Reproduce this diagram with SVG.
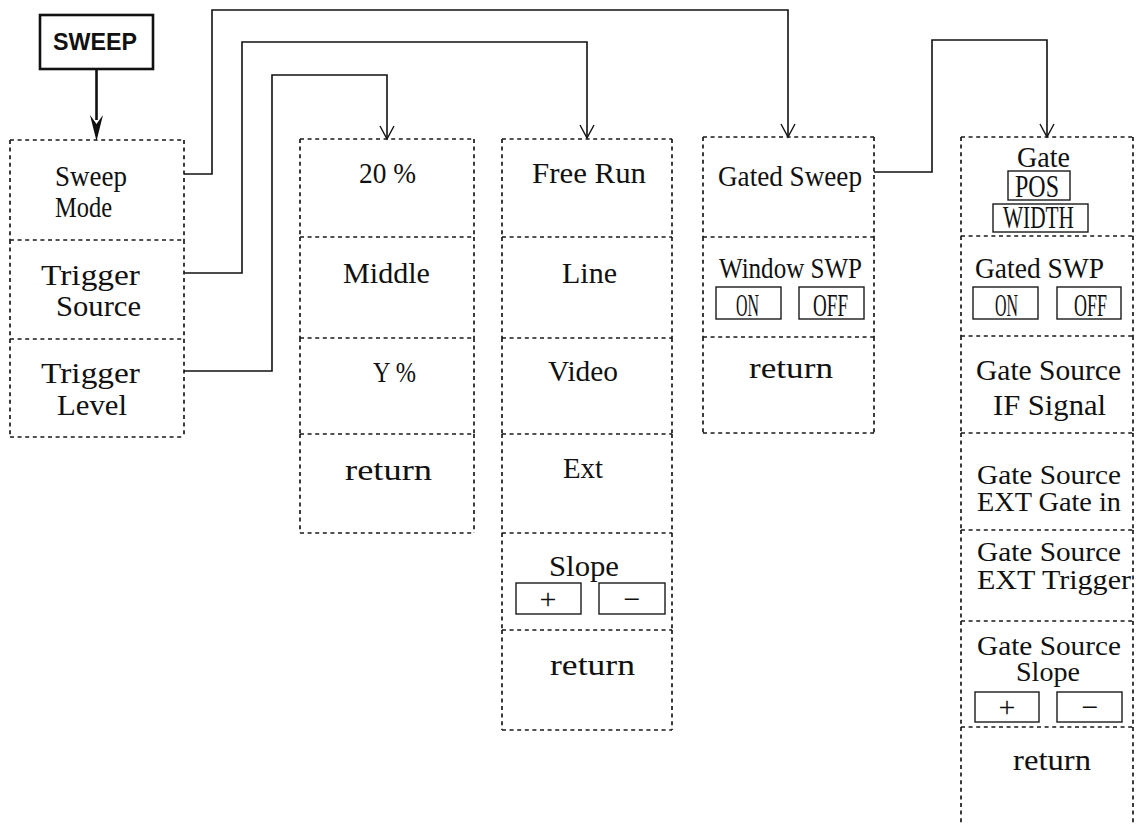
<svg xmlns="http://www.w3.org/2000/svg" width="1136" height="825" viewBox="0 0 1136 825">
<style>
.cell{fill:none;stroke:#1a1a1a;stroke-width:1.7;stroke-dasharray:4 3.6}
.btn{fill:none;stroke:#1a1a1a;stroke-width:1.4}
.t{font-family:"Liberation Serif","Times New Roman",serif;font-size:29px;fill:#111}
.s{font-family:"Liberation Serif","Times New Roman",serif;font-size:27px;fill:#111}
.b{font-family:"Liberation Serif","Times New Roman",serif;font-size:31px;fill:#111}
.pm{font-family:"Liberation Serif","Times New Roman",serif;font-size:30px;fill:#111;text-anchor:middle}
.conn{fill:none;stroke:#111;stroke-width:1.6}
.head{fill:none;stroke:#111;stroke-width:1.4}
</style>
<rect width="1136" height="825" fill="#fff"/>

<g id="sweep-key">
<rect x="40" y="15" width="113" height="54" fill="#fff" stroke="#111" stroke-width="2.6"/>
<text x="95" y="50" text-anchor="middle" style="font-family:'Liberation Sans',Arial,sans-serif;font-size:24px;font-weight:bold;fill:#111" textLength="84" lengthAdjust="spacingAndGlyphs">SWEEP</text>
</g>

<g id="connectors">
<path d="M96.5 69 V120" stroke="#111" stroke-width="2.6" fill="none"/>
<path d="M96.5 141 L90 115 L96.5 124 L103 115 Z" fill="#111"/>
<path class="conn" d="M184 174 H212 V10 H788 V137"/>
<path class="head" d="M781 124 L788 137 L795 124"/>
<path class="conn" d="M184 273 H242 V42 H587 V138"/>
<path class="head" d="M580 125 L587 138 L594 125"/>
<path class="conn" d="M184 371 H272 V75 H387 V139"/>
<path class="head" d="M380 126 L387 139 L394 126"/>
<path class="conn" d="M874 172 H932 V40 H1047 V137"/>
<path class="head" d="M1040 124 L1047 137 L1054 124"/>
</g>

<g id="sweep-mode">
<path class="cell" d="M10 140 H184 M10 140 V240 M184 140 V240"/>
<text class="t" x="55" y="186" textLength="72" lengthAdjust="spacingAndGlyphs">Sweep</text>
<text class="t" x="55" y="217" textLength="57" lengthAdjust="spacingAndGlyphs">Mode</text>
</g>
<g id="trigger-source">
<path class="cell" d="M10 240 H184 M10 240 V339 M184 240 V339"/>
<text class="t" x="41" y="285" textLength="99" lengthAdjust="spacingAndGlyphs">Trigger</text>
<text class="t" x="56" y="316" textLength="85" lengthAdjust="spacingAndGlyphs">Source</text>
</g>
<g id="trigger-level">
<path class="cell" d="M10 339 H184 M10 339 V437 M184 339 V437 M10 437 H184"/>
<text class="t" x="41" y="383" textLength="99" lengthAdjust="spacingAndGlyphs">Trigger</text>
<text class="t" x="57" y="415" textLength="70" lengthAdjust="spacingAndGlyphs">Level</text>
</g>

<g id="level-20">
<path class="cell" d="M300 139 H474 M300 139 V237 M474 139 V237"/>
<text class="t" x="359" y="183" textLength="57" lengthAdjust="spacingAndGlyphs">20 %</text>
</g>
<g id="level-middle">
<path class="cell" d="M300 237 H474 M300 237 V338 M474 237 V338"/>
<text class="t" x="343" y="283" textLength="87" lengthAdjust="spacingAndGlyphs">Middle</text>
</g>
<g id="level-y">
<path class="cell" d="M300 338 H474 M300 338 V434 M474 338 V434"/>
<text class="t" x="373" y="382" textLength="43" lengthAdjust="spacingAndGlyphs">Y %</text>
</g>
<g id="level-return">
<path class="cell" d="M300 434 H474 M300 434 V533 M474 434 V533 M300 533 H474"/>
<text class="t" x="345" y="480" textLength="87" lengthAdjust="spacingAndGlyphs">return</text>
</g>

<g id="src-free-run">
<path class="cell" d="M502 139 H672 M502 139 V237 M672 139 V237"/>
<text class="t" x="532" y="183" textLength="114" lengthAdjust="spacingAndGlyphs">Free Run</text>
</g>
<g id="src-line">
<path class="cell" d="M502 237 H672 M502 237 V338 M672 237 V338"/>
<text class="t" x="562" y="283" textLength="55" lengthAdjust="spacingAndGlyphs">Line</text>
</g>
<g id="src-video">
<path class="cell" d="M502 338 H672 M502 338 V434 M672 338 V434"/>
<text class="t" x="548" y="381" textLength="70" lengthAdjust="spacingAndGlyphs">Video</text>
</g>
<g id="src-ext">
<path class="cell" d="M502 434 H672 M502 434 V533 M672 434 V533"/>
<text class="t" x="563" y="478" textLength="40" lengthAdjust="spacingAndGlyphs">Ext</text>
</g>
<g id="src-slope">
<path class="cell" d="M502 533 H672 M502 533 V630 M672 533 V630"/>
<text class="t" x="549" y="576" textLength="70" lengthAdjust="spacingAndGlyphs">Slope</text>
<rect class="btn" x="516" y="583" width="65" height="31"/>
<rect class="btn" x="599" y="583" width="66" height="31"/>
<text class="pm" x="548" y="609">+</text>
<text class="pm" x="632" y="609">−</text>
</g>
<g id="src-return">
<path class="cell" d="M502 630 H672 M502 630 V730 M672 630 V730 M502 730 H672"/>
<text class="t" x="550" y="675" textLength="85" lengthAdjust="spacingAndGlyphs">return</text>
</g>

<g id="gated-sweep">
<path class="cell" d="M703 137 H874 M703 137 V237 M874 137 V237"/>
<text class="t" x="718" y="186" textLength="144" lengthAdjust="spacingAndGlyphs">Gated Sweep</text>
</g>
<g id="window-swp">
<path class="cell" d="M703 237 H874 M703 237 V337 M874 237 V337"/>
<text class="t" x="719" y="278" textLength="143" lengthAdjust="spacingAndGlyphs">Window SWP</text>
<rect class="btn" x="716" y="287" width="65" height="32"/>
<rect class="btn" x="799" y="287" width="65" height="32"/>
<text class="b" x="736" y="316" textLength="23" lengthAdjust="spacingAndGlyphs">ON</text>
<text class="b" x="813" y="316" textLength="35" lengthAdjust="spacingAndGlyphs">OFF</text>
</g>
<g id="gated-return">
<path class="cell" d="M703 337 H874 M703 337 V433 M874 337 V433 M703 433 H874"/>
<text class="t" x="749" y="378" textLength="84" lengthAdjust="spacingAndGlyphs">return</text>
</g>

<g id="gate-pos-width">
<path class="cell" d="M961 137 H1133 M961 137 V236 M1133 137 V236"/>
<text class="t" x="1017" y="167" textLength="53" lengthAdjust="spacingAndGlyphs">Gate</text>
<rect class="btn" x="1008" y="171" width="62" height="29"/>
<rect class="btn" x="993" y="204" width="95" height="28"/>
<text class="b" x="1015" y="197" textLength="44" lengthAdjust="spacingAndGlyphs">POS</text>
<text class="b" x="1003" y="228" textLength="71" lengthAdjust="spacingAndGlyphs">WIDTH</text>
</g>
<g id="gated-swp">
<path class="cell" d="M961 236 H1133 M961 236 V336 M1133 236 V336"/>
<text class="t" x="975" y="278" textLength="129" lengthAdjust="spacingAndGlyphs">Gated SWP</text>
<rect class="btn" x="973" y="287" width="65" height="32"/>
<rect class="btn" x="1057" y="287" width="64" height="32"/>
<text class="b" x="995" y="316" textLength="23" lengthAdjust="spacingAndGlyphs">ON</text>
<text class="b" x="1074" y="316" textLength="33" lengthAdjust="spacingAndGlyphs">OFF</text>
</g>
<g id="gate-src-if">
<path class="cell" d="M961 336 H1133 M961 336 V433 M1133 336 V433"/>
<text class="t" x="976" y="380" textLength="145" lengthAdjust="spacingAndGlyphs">Gate Source</text>
<text class="t" x="993" y="415" textLength="113" lengthAdjust="spacingAndGlyphs">IF Signal</text>
</g>
<g id="gate-src-ext-gate">
<path class="cell" d="M961 433 H1133 M961 433 V530 M1133 433 V530"/>
<text class="s" x="977" y="484" textLength="144" lengthAdjust="spacingAndGlyphs">Gate Source</text>
<text class="s" x="977" y="511" textLength="144" lengthAdjust="spacingAndGlyphs">EXT Gate in</text>
</g>
<g id="gate-src-ext-trigger">
<path class="cell" d="M961 530 H1133 M961 530 V621 M1133 530 V621"/>
<text class="s" x="977" y="561" textLength="144" lengthAdjust="spacingAndGlyphs">Gate Source</text>
<text class="s" x="977" y="589" textLength="154" lengthAdjust="spacingAndGlyphs">EXT Trigger</text>
</g>
<g id="gate-src-slope">
<path class="cell" d="M961 621 H1133 M961 621 V727 M1133 621 V727"/>
<text class="s" x="977" y="655" textLength="144" lengthAdjust="spacingAndGlyphs">Gate Source</text>
<text class="s" x="1016" y="681" textLength="64" lengthAdjust="spacingAndGlyphs">Slope</text>
<rect class="btn" x="975" y="692" width="64" height="30"/>
<rect class="btn" x="1057" y="692" width="65" height="30"/>
<text class="pm" x="1007" y="717">+</text>
<text class="pm" x="1090" y="717">−</text>
</g>
<g id="gate-return">
<path class="cell" d="M961 727 H1133 M961 727 V825 M1133 727 V825"/>
<text class="t" x="1013" y="770" textLength="78" lengthAdjust="spacingAndGlyphs">return</text>
</g>
</svg>
